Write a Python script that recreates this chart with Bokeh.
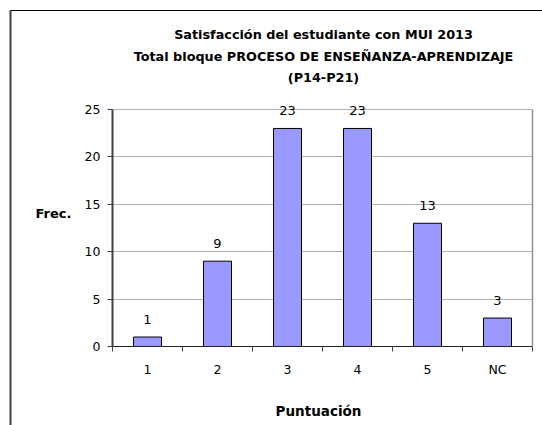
from bokeh.plotting import figure
from bokeh.models import (ColumnDataSource, FixedTicker, LabelSet, Label,
                          BoxAnnotation, Range1d, LinearAxis, Grid)
from bokeh.core.properties import value
from bokeh.embed import file_html
from bokeh.resources import INLINE
import numpy as np

categories = ["1", "2", "3", "4", "5", "NC"]
frecuencias = [1, 9, 23, 23, 13, 3]
y_ticks = [0, 5, 10, 15, 20, 25]
title_lines = ["Satisfacción del estudiante con MUI 2013",
               "Total bloque PROCESO DE ENSEÑANZA-APRENDIZAJE",
               "(P14-P21)"]
x_title = "Puntuación"
y_title = "Frec."

FONT = "DejaVu Sans"
W, H = 542, 425
# plot-area placement (pixels in canvas)
PL, PR, PT, PB = 112, 532, 109, 346
ncat = len(categories)
ymax = y_ticks[-1]
sx = (PR - PL) / ncat          # px per category
sy = (PB - PT) / ymax          # px per unit

def dx(px):
    return (px - PL) / sx

def dy(py):
    return (PB - py) / sy

xpos = np.arange(ncat) + 0.5
src = ColumnDataSource(dict(x=xpos, y=frecuencias,
                            lbl=[str(v) for v in frecuencias]))

p = figure(width=W, height=H, output_backend="svg", toolbar_location=None,
           x_range=Range1d(dx(0), dx(W)), y_range=Range1d(dy(H), dy(0)),
           x_axis_location=None, y_axis_location=None, min_border=0)
p.background_fill_color = "white"
p.border_fill_color = "white"
p.outline_line_color = None
p.grid.visible = False

# horizontal grid lines, limited to plot area
g = Grid(dimension=1, ticker=FixedTicker(ticks=y_ticks[1:]),
         grid_line_color="#b0b0b0", grid_line_width=1)
if "cross_bounds" in Grid.properties():
    g.cross_bounds = (0, ncat)
    p.add_layout(g)
else:
    p.segment(x0=0, x1=ncat, y0=y_ticks[1:], y1=y_ticks[1:],
              line_color="#b0b0b0", line_width=1)

# right border of plot area
ra = LinearAxis(fixed_location=ncat, bounds=(0, ymax),
                ticker=FixedTicker(ticks=[]), axis_line_color="#909090",
                axis_line_width=1.5,
                major_tick_line_color=None, minor_tick_line_color=None,
                major_label_text_font_size="0px")
p.add_layout(ra, "right")

p.vbar(x="x", top="y", width=0.4, source=src, fill_color="#9999FF",
       line_color="black", line_width=1)

# x axis
xa = LinearAxis(fixed_location=0, bounds=(0, ncat))
xa.ticker = FixedTicker(ticks=list(xpos), minor_ticks=list(range(ncat + 1)))
xa.major_label_overrides = {float(x): c for x, c in zip(xpos, categories)}
xa.major_tick_line_color = None
xa.major_tick_out = 0
xa.major_tick_in = 0
xa.minor_tick_line_color = "#404040"
xa.minor_tick_out = 5
xa.minor_tick_in = 0
xa.axis_line_color = "#202020"
xa.major_label_standoff = 10
xa.major_label_text_font = FONT
xa.major_label_text_font_size = "12.5px"
xa.major_label_text_color = "black"
p.add_layout(xa, "below")

# y axis
ya = LinearAxis(fixed_location=0, bounds=(0, ymax))
ya.ticker = FixedTicker(ticks=y_ticks)
ya.major_tick_out = 5
ya.major_tick_in = 0
ya.minor_tick_line_color = None
ya.axis_line_color = "#404040"
ya.axis_line_width = 2
ya.major_tick_line_color = "#404040"
ya.major_label_standoff = 7
ya.major_label_text_font = FONT
ya.major_label_text_font_size = "12.5px"
ya.major_label_text_color = "black"
p.add_layout(ya, "left")

labels = LabelSet(x="x", y="y", text="lbl", source=src, y_offset=18,
                  text_align="center", text_baseline="middle",
                  text_font=value(FONT), text_font_size="13px",
                  text_color="black")
p.add_layout(labels)

for txt, py in zip(title_lines, [34, 56, 77]):
    p.add_layout(Label(x=dx(323), y=dy(py), text=txt,
                       text_align="center", text_baseline="middle",
                       text_font=FONT, text_font_size="12.8px",
                       text_font_style="bold", text_color="black"))

p.add_layout(Label(x=dx(53), y=dy(213), text=y_title,
                   text_align="center", text_baseline="middle",
                   text_font=FONT, text_font_size="13px",
                   text_font_style="bold", text_color="black"))
p.add_layout(Label(x=dx(318), y=dy(410), text=x_title,
                   text_align="center", text_baseline="middle",
                   text_font=FONT, text_font_size="13.5px",
                   text_font_style="bold", text_color="black"))

# outer chart border (left and top edges visible in the window)
p.add_layout(BoxAnnotation(left=dx(9), right=dx(11), top=dy(10), bottom=None,
                           fill_color="#404040", fill_alpha=1,
                           line_color=None, level="overlay"))
p.add_layout(BoxAnnotation(left=dx(10), right=None, top=dy(9.5),
                           bottom=dy(10.5), fill_color="black", fill_alpha=1,
                           line_color=None, level="overlay"))

open("out.html", "w").write(file_html(p, INLINE))
